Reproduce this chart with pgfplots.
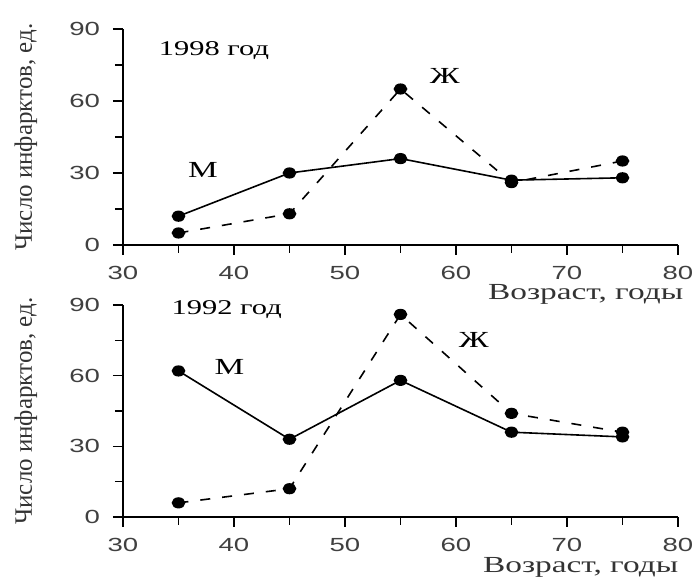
\documentclass[border=0pt]{standalone}
\usepackage{fontspec}
\setmainfont{Liberation Serif}[FakeStretch=1.45]
\newfontfamily\ylfont{Liberation Serif}
\newfontfamily\tickfont{Liberation Sans}[FakeStretch=1.45]
\usepackage{pgfplots}
\pgfplotsset{compat=1.18}

\pgfplotsset{
  panel/.style={
    scale only axis,
    width=277.5pt,
    xmin=30, xmax=80, ymin=0, ymax=90,
    xtick={30,40,...,80}, ytick={0,30,60,90},
    minor tick num=1,
    axis lines=left,
    axis line style={-, line width=0.9pt},
    tick align=outside,
    major tick length=5pt, minor tick length=4pt,
    tick style={line width=0.7pt, black},
    /pgf/number format/assume math mode=true,
    tick label style={font=\tickfont\fontsize{9.5}{10}\selectfont, text=black!75},
    xticklabel style={yshift=-2pt},
    yticklabel style={xshift=-3pt},
    ylabel style={font=\ylfont\fontsize{12.5}{14}\selectfont, text=black!80,
      at={(axis description cs:-0.175,0.5)}, anchor=center},
    xlabel style={font=\fontsize{11.5}{13}\selectfont, text=black!80, anchor=east},
    ylabel={Число инфарктов, ед.},
    clip=false,
  },
  men/.style={black, line width=0.8pt, mark=*, mark size=2.4pt, mark options={solid, xscale=1.25}},
  women/.style={black, line width=0.8pt, dash pattern=on 5pt off 6pt, mark=*, mark size=2.4pt, mark options={solid, xscale=1.25}},
}

\begin{document}
\begin{tikzpicture}
\path[use as bounding box] (0,0) rectangle (349pt,290.5pt);

% 1998
\begin{axis}[panel, height=108pt, at={(61.5pt,168pt)}, anchor=south west,
  xlabel={Возраст, годы},
  xlabel style={at={(axis description cs:1.022,-0.23)}}]
\addplot[men] coordinates {(35,12) (45,30) (55,36) (65,27) (75,28)};
\addplot[women] coordinates {(35,5) (45,13) (55,65) (65,26) (75,35)};
\node[anchor=west, font=\fontsize{10.5}{12}\selectfont] at (axis cs:32.6,81) {1998 год};
\node[font=\fontsize{11.5}{13}\selectfont] at (axis cs:37.2,31.1) {М};
\node[font=\fontsize{11.5}{13}\selectfont] at (axis cs:59,70.3) {Ж};
\end{axis}

% 1992
\begin{axis}[panel, height=106pt, at={(61.5pt,32pt)}, anchor=south west,
  xlabel={Возраст, годы},
  xlabel style={at={(axis description cs:1.013,-0.24)}}]
\addplot[men] coordinates {(35,62) (45,33) (55,58) (65,36) (75,34)};
\addplot[women] coordinates {(35,6) (45,12) (55,86) (65,44) (75,36)};
\node[anchor=west, font=\fontsize{10.5}{12}\selectfont] at (axis cs:33.75,88) {1992 год};
\node[font=\fontsize{11.5}{13}\selectfont] at (axis cs:39.6,63.6) {М};
\node[font=\fontsize{11.5}{13}\selectfont] at (axis cs:61.6,75.3) {Ж};
\end{axis}
\end{tikzpicture}
\end{document}
